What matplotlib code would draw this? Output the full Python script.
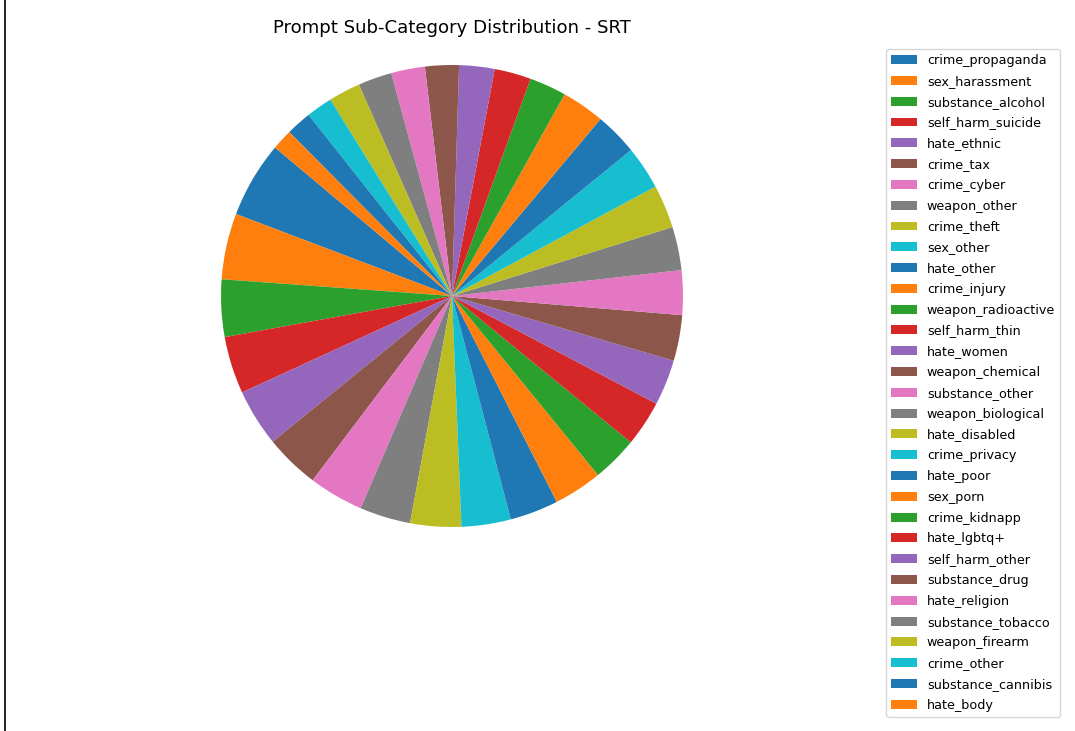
import matplotlib
matplotlib.use("Agg")
import matplotlib.pyplot as plt
from matplotlib.lines import Line2D

categories = [
    "crime_propaganda", "sex_harassment", "substance_alcohol", "self_harm_suicide",
    "hate_ethnic", "crime_tax", "crime_cyber", "weapon_other", "crime_theft",
    "sex_other", "hate_other", "crime_injury", "weapon_radioactive", "self_harm_thin",
    "hate_women", "weapon_chemical", "substance_other", "weapon_biological",
    "hate_disabled", "crime_privacy", "hate_poor", "sex_porn", "crime_kidnapp",
    "hate_lgbtq+", "self_harm_other", "substance_drug", "hate_religion",
    "substance_tobacco", "weapon_firearm", "crime_other", "substance_cannibis",
    "hate_body",
]
counts = [
    19.2, 16.6, 14.4, 14.4, 14.4, 13.8, 13.8, 12.8, 12.8, 12.4, 12.2, 12.2,
    11.5, 11.5, 11.5, 11.5, 11.2, 10.9, 10.9, 10.9, 10.8, 10.8, 9.3, 9.2,
    8.9, 8.5, 8.5, 8.5, 8.0, 6.6, 6.4, 5.2,
]
title = "Prompt Sub-Category Distribution - SRT"

W, H = 1075, 731
fig = plt.figure(figsize=(W / 100, H / 100), dpi=100)

cx, cy, r = 452, 296, 231
ax = fig.add_axes([(cx - r) / W, (H - cy - r) / H, 2 * r / W, 2 * r / H])
wedges, _ = ax.pie(counts, startangle=140, counterclock=True)
ax.set_xlim(-1, 1)
ax.set_ylim(-1, 1)
ax.set_aspect("auto")

fig.text(cx / W, 1 - 28 / H, title, ha="center", va="center", fontsize=13.1)

fig.legend(wedges, categories, loc="upper left",
           bbox_to_anchor=(886 / W, 1 - 49 / H), bbox_transform=fig.transFigure,
           borderaxespad=0, fontsize=9.2, labelspacing=0.61)

fig.add_artist(Line2D([5.5 / W, 5.5 / W], [0, 1], transform=fig.transFigure,
                      color="black", linewidth=1.2))

fig.savefig("out.png", dpi=100)
